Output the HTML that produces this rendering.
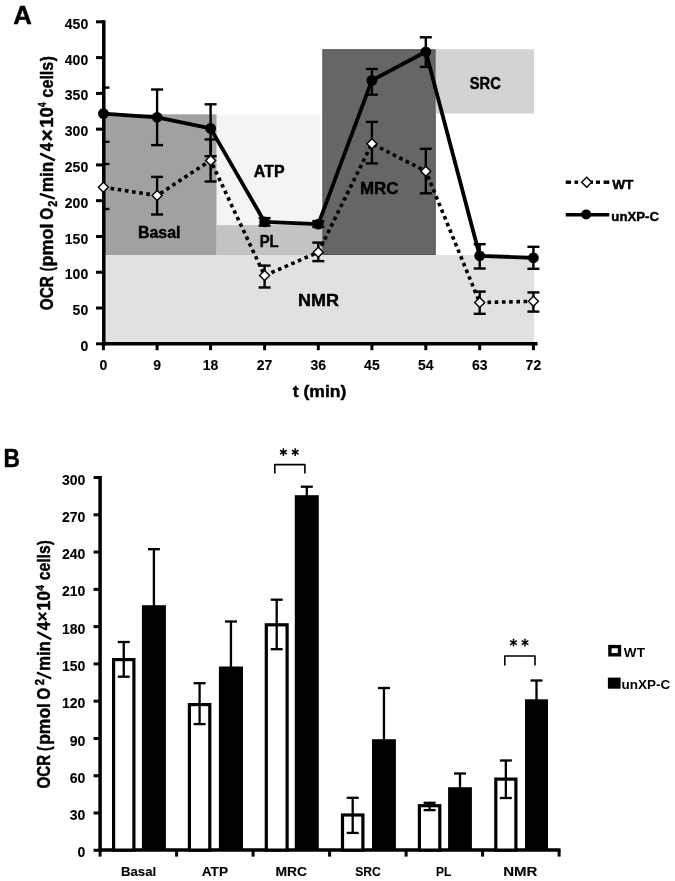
<!DOCTYPE html>
<html><head><meta charset="utf-8"><style>
html,body{margin:0;padding:0;background:#fff;}
svg{display:block;}
text{font-family:"Liberation Sans", sans-serif;fill:#000;stroke:#000;stroke-width:0.45px;stroke-linejoin:round;}
text.lt{stroke-width:0.12px;}
text.vl{stroke-width:0px;}
</style></head><body>
<svg width="675" height="881" viewBox="0 0 675 881">
<defs><filter id="bl" x="0" y="0" width="1" height="1"><feGaussianBlur stdDeviation="0.4"/></filter></defs>
<rect width="675" height="881" fill="#fff"/>
<g filter="url(#bl)">
<rect x="105" y="255" width="429.2" height="88.8" fill="#e1e1e1"/>
<rect x="105" y="114.3" width="111.7" height="140.7" fill="#a1a1a1"/>
<rect x="216.7" y="114.6" width="103.9" height="110.5" fill="#f4f4f4"/>
<rect x="216.7" y="225.1" width="106" height="29.9" fill="#c3c3c3"/>
<rect x="322.9" y="49.8" width="112.3" height="204.6" fill="#666666" stroke="#585858" stroke-width="1.2"/>
<rect x="435.8" y="49.3" width="98.3" height="64.3" fill="#d3d3d3"/>
<text x="137.93" y="238.1" font-size="16.5" font-weight="bold" textLength="42.49" lengthAdjust="spacingAndGlyphs">Basal</text>
<text x="253.82" y="176.5" font-size="16.5" font-weight="bold" textLength="30.71" lengthAdjust="spacingAndGlyphs">ATP</text>
<text x="259.71" y="246.7" font-size="16.5" font-weight="bold" textLength="18.95" lengthAdjust="spacingAndGlyphs">PL</text>
<text x="359.97" y="193.6" font-size="16.5" font-weight="bold" textLength="38.49" lengthAdjust="spacingAndGlyphs">MRC</text>
<text x="469.78" y="88.6" font-size="16.5" font-weight="bold" textLength="31.03" lengthAdjust="spacingAndGlyphs">SRC</text>
<text x="298.10" y="305.5" font-size="16.5" font-weight="bold" textLength="40.97" lengthAdjust="spacingAndGlyphs">NMR</text>
<g stroke="#000" stroke-width="3.5" fill="none">
<line x1="103.8" y1="20.2" x2="103.8" y2="345.6"/>
<line x1="102" y1="343.8" x2="537.6" y2="343.8"/>
</g>
<g stroke="#000" stroke-width="3" fill="none">
<line x1="96" y1="343.80" x2="104" y2="343.80"/>
<line x1="96" y1="308.03" x2="104" y2="308.03"/>
<line x1="96" y1="272.25" x2="104" y2="272.25"/>
<line x1="96" y1="236.48" x2="104" y2="236.48"/>
<line x1="96" y1="200.70" x2="104" y2="200.70"/>
<line x1="96" y1="164.93" x2="104" y2="164.93"/>
<line x1="96" y1="129.15" x2="104" y2="129.15"/>
<line x1="96" y1="93.38" x2="104" y2="93.38"/>
<line x1="96" y1="57.60" x2="104" y2="57.60"/>
<line x1="96" y1="21.82" x2="104" y2="21.82"/>
<line x1="103.40" y1="343.8" x2="103.40" y2="350.2"/>
<line x1="157.10" y1="343.8" x2="157.10" y2="350.2"/>
<line x1="210.60" y1="343.8" x2="210.60" y2="350.2"/>
<line x1="264.60" y1="343.8" x2="264.60" y2="350.2"/>
<line x1="318.30" y1="343.8" x2="318.30" y2="350.2"/>
<line x1="371.90" y1="343.8" x2="371.90" y2="350.2"/>
<line x1="425.80" y1="343.8" x2="425.80" y2="350.2"/>
<line x1="479.70" y1="343.8" x2="479.70" y2="350.2"/>
<line x1="533.40" y1="343.8" x2="533.40" y2="350.2"/>
</g>
<text class="lt" x="88.2" y="350.90" font-size="14" font-weight="bold" text-anchor="end">0</text>
<text class="lt" x="88.2" y="315.13" font-size="14" font-weight="bold" text-anchor="end">50</text>
<text class="lt" x="88.2" y="279.35" font-size="14" font-weight="bold" text-anchor="end">100</text>
<text class="lt" x="88.2" y="243.58" font-size="14" font-weight="bold" text-anchor="end">150</text>
<text class="lt" x="88.2" y="207.80" font-size="14" font-weight="bold" text-anchor="end">200</text>
<text class="lt" x="88.2" y="172.03" font-size="14" font-weight="bold" text-anchor="end">250</text>
<text class="lt" x="88.2" y="136.25" font-size="14" font-weight="bold" text-anchor="end">300</text>
<text class="lt" x="88.2" y="100.47" font-size="14" font-weight="bold" text-anchor="end">350</text>
<text class="lt" x="88.2" y="64.70" font-size="14" font-weight="bold" text-anchor="end">400</text>
<text class="lt" x="88.2" y="28.92" font-size="14" font-weight="bold" text-anchor="end">450</text>
<text class="lt" x="103.40" y="370.3" font-size="14" font-weight="bold" text-anchor="middle">0</text>
<text class="lt" x="157.10" y="370.3" font-size="14" font-weight="bold" text-anchor="middle">9</text>
<text class="lt" x="210.60" y="370.3" font-size="14" font-weight="bold" text-anchor="middle">18</text>
<text class="lt" x="264.60" y="370.3" font-size="14" font-weight="bold" text-anchor="middle">27</text>
<text class="lt" x="318.30" y="370.3" font-size="14" font-weight="bold" text-anchor="middle">36</text>
<text class="lt" x="371.90" y="370.3" font-size="14" font-weight="bold" text-anchor="middle">45</text>
<text class="lt" x="425.80" y="370.3" font-size="14" font-weight="bold" text-anchor="middle">54</text>
<text class="lt" x="479.70" y="370.3" font-size="14" font-weight="bold" text-anchor="middle">63</text>
<text class="lt" x="533.40" y="370.3" font-size="14" font-weight="bold" text-anchor="middle">72</text>
<text transform="translate(53.1,0) rotate(-90)" x="-310.13" y="0" font-size="18.4" font-weight="bold" textLength="34.04" lengthAdjust="spacingAndGlyphs">OCR</text>
<text transform="translate(53.1,0) rotate(-90)" x="-271.24" y="0" font-size="18.4" font-weight="bold" textLength="4.25" lengthAdjust="spacingAndGlyphs">(</text>
<text transform="translate(53.1,0) rotate(-90)" x="-266.49" y="0" font-size="18.4" font-weight="bold" textLength="42.96" lengthAdjust="spacingAndGlyphs">pmol</text>
<text transform="translate(53.1,0) rotate(-90)" x="-219.63" y="0" font-size="18.4" font-weight="bold" textLength="11.87" lengthAdjust="spacingAndGlyphs">O</text>
<text transform="translate(53.1,0) rotate(-90)" x="-206.77" y="3.5" font-size="11.9" font-weight="bold" textLength="6.01" lengthAdjust="spacingAndGlyphs">2</text>
<line x1="54.8" y1="198.6" x2="39.8" y2="193.8" stroke="#000" stroke-width="2.3"/>
<text transform="translate(53.1,0) rotate(-90)" x="-192.33" y="0" font-size="18.4" font-weight="bold" textLength="30.49" lengthAdjust="spacingAndGlyphs">min</text>
<line x1="54.9" y1="160.4" x2="40.1" y2="153.6" stroke="#000" stroke-width="2.3"/>
<text transform="translate(53.1,0) rotate(-90)" x="-151.33" y="0" font-size="18.4" font-weight="bold" textLength="8.51" lengthAdjust="spacingAndGlyphs">4</text>
<text transform="translate(53.1,0) rotate(-90)" x="-141.40" y="0.6" font-size="20.8" font-weight="bold" textLength="12.50" lengthAdjust="spacingAndGlyphs">×</text>
<text transform="translate(53.1,0) rotate(-90)" x="-127.77" y="0" font-size="18.4" font-weight="bold" textLength="20.74" lengthAdjust="spacingAndGlyphs">10</text>
<text transform="translate(53.1,0) rotate(-90)" x="-107.02" y="-6.7" font-size="11.3" font-weight="bold" textLength="4.57" lengthAdjust="spacingAndGlyphs">4</text>
<text transform="translate(53.1,0) rotate(-90)" x="-97.63" y="0" font-size="18.4" font-weight="bold" textLength="36.00" lengthAdjust="spacingAndGlyphs">cells</text>
<text transform="translate(53.1,0) rotate(-90)" x="-61.22" y="0" font-size="18.4" font-weight="bold" textLength="5.19" lengthAdjust="spacingAndGlyphs">)</text>
<text x="292.79" y="397.3" font-size="17" font-weight="bold" textLength="53.59" lengthAdjust="spacingAndGlyphs">t (min)</text>
<g stroke="#000" stroke-width="2.4" fill="none">
<line x1="103.40" y1="164" x2="103.40" y2="209"/><line x1="103.40" y1="164" x2="109.40" y2="164"/><line x1="103.40" y1="209" x2="109.40" y2="209"/>
<line x1="157.10" y1="176.9" x2="157.10" y2="214.5"/><line x1="151.10" y1="176.9" x2="163.10" y2="176.9"/><line x1="151.10" y1="214.5" x2="163.10" y2="214.5"/>
<line x1="210.60" y1="139.4" x2="210.60" y2="181.5"/><line x1="204.60" y1="139.4" x2="216.60" y2="139.4"/><line x1="204.60" y1="181.5" x2="216.60" y2="181.5"/>
<line x1="264.60" y1="265.6" x2="264.60" y2="287.5"/><line x1="258.60" y1="265.6" x2="270.60" y2="265.6"/><line x1="258.60" y1="287.5" x2="270.60" y2="287.5"/>
<line x1="318.30" y1="242.6" x2="318.30" y2="261.1"/><line x1="312.30" y1="242.6" x2="324.30" y2="242.6"/><line x1="312.30" y1="261.1" x2="324.30" y2="261.1"/>
<line x1="371.90" y1="121.9" x2="371.90" y2="163.4"/><line x1="365.90" y1="121.9" x2="377.90" y2="121.9"/><line x1="365.90" y1="163.4" x2="377.90" y2="163.4"/>
<line x1="425.80" y1="148.8" x2="425.80" y2="193.3"/><line x1="419.80" y1="148.8" x2="431.80" y2="148.8"/><line x1="419.80" y1="193.3" x2="431.80" y2="193.3"/>
<line x1="479.70" y1="291.6" x2="479.70" y2="313.8"/><line x1="473.70" y1="291.6" x2="485.70" y2="291.6"/><line x1="473.70" y1="313.8" x2="485.70" y2="313.8"/>
<line x1="533.40" y1="292.4" x2="533.40" y2="311.6"/><line x1="527.40" y1="292.4" x2="539.40" y2="292.4"/><line x1="527.40" y1="311.6" x2="539.40" y2="311.6"/>
<line x1="103.40" y1="87.6" x2="103.40" y2="141.8"/><line x1="103.40" y1="87.6" x2="109.40" y2="87.6"/><line x1="103.40" y1="141.8" x2="109.40" y2="141.8"/>
<line x1="157.10" y1="89.5" x2="157.10" y2="145.1"/><line x1="151.10" y1="89.5" x2="163.10" y2="89.5"/><line x1="151.10" y1="145.1" x2="163.10" y2="145.1"/>
<line x1="210.60" y1="104.3" x2="210.60" y2="156.2"/><line x1="204.60" y1="104.3" x2="216.60" y2="104.3"/><line x1="204.60" y1="156.2" x2="216.60" y2="156.2"/>
<line x1="264.60" y1="218.1" x2="264.60" y2="225.6"/><line x1="258.60" y1="218.1" x2="270.60" y2="218.1"/><line x1="258.60" y1="225.6" x2="270.60" y2="225.6"/>
<line x1="318.30" y1="221.1" x2="318.30" y2="227"/><line x1="312.30" y1="221.1" x2="324.30" y2="221.1"/><line x1="312.30" y1="227" x2="324.30" y2="227"/>
<line x1="371.90" y1="69" x2="371.90" y2="94.7"/><line x1="365.90" y1="69" x2="377.90" y2="69"/><line x1="365.90" y1="94.7" x2="377.90" y2="94.7"/>
<line x1="425.80" y1="37.3" x2="425.80" y2="66.9"/><line x1="419.80" y1="37.3" x2="431.80" y2="37.3"/><line x1="419.80" y1="66.9" x2="431.80" y2="66.9"/>
<line x1="479.70" y1="244.2" x2="479.70" y2="268.5"/><line x1="473.70" y1="244.2" x2="485.70" y2="244.2"/><line x1="473.70" y1="268.5" x2="485.70" y2="268.5"/>
<line x1="533.40" y1="246.8" x2="533.40" y2="268.8"/><line x1="527.40" y1="246.8" x2="539.40" y2="246.8"/><line x1="527.40" y1="268.8" x2="539.40" y2="268.8"/>
</g>
<line x1="103.40" y1="187.3" x2="157.10" y2="195.5" stroke="#000" stroke-width="3.6" stroke-dasharray="3.6 3.62" stroke-dashoffset="7.14"/>
<line x1="157.10" y1="195.5" x2="210.60" y2="160.4" stroke="#000" stroke-width="3.6" stroke-dasharray="3.6 3.62" stroke-dashoffset="3.34"/>
<line x1="210.60" y1="160.4" x2="264.60" y2="275.6" stroke="#000" stroke-width="3.6" stroke-dasharray="3.6 3.62" stroke-dashoffset="2.48"/>
<line x1="264.60" y1="275.6" x2="318.30" y2="252.2" stroke="#000" stroke-width="3.6" stroke-dasharray="3.6 3.62" stroke-dashoffset="6.97"/>
<line x1="318.30" y1="252.2" x2="371.90" y2="143.7" stroke="#000" stroke-width="3.6" stroke-dasharray="3.6 3.62" stroke-dashoffset="0.18"/>
<line x1="371.90" y1="143.7" x2="425.80" y2="171.2" stroke="#000" stroke-width="3.6" stroke-dasharray="3.6 3.62" stroke-dashoffset="5.35"/>
<line x1="425.80" y1="171.2" x2="479.70" y2="302.6" stroke="#000" stroke-width="3.6" stroke-dasharray="3.6 3.62" stroke-dashoffset="1.91"/>
<line x1="479.70" y1="302.6" x2="533.40" y2="301.3" stroke="#000" stroke-width="3.6" stroke-dasharray="3.6 3.62" stroke-dashoffset="6.64"/>
<polyline points="103.40,113.6 157.10,117.3 210.60,128.4 264.60,221.9 318.30,224.1 371.90,80.4 425.80,51.8 479.70,255.8 533.40,257.8" fill="none" stroke="#000" stroke-width="3.8" stroke-linejoin="round"/>
<circle cx="103.40" cy="113.6" r="5.4" fill="#000"/>
<circle cx="157.10" cy="117.3" r="5.4" fill="#000"/>
<circle cx="210.60" cy="128.4" r="5.4" fill="#000"/>
<circle cx="264.60" cy="221.9" r="5.4" fill="#000"/>
<circle cx="318.30" cy="224.1" r="5.4" fill="#000"/>
<circle cx="371.90" cy="80.4" r="5.4" fill="#000"/>
<circle cx="425.80" cy="51.8" r="5.4" fill="#000"/>
<circle cx="479.70" cy="255.8" r="5.4" fill="#000"/>
<circle cx="533.40" cy="257.8" r="5.4" fill="#000"/>
<path d="M103.40,182.30 L108.40,187.30 L103.40,192.30 L98.40,187.30 Z" fill="#fff" stroke="#000" stroke-width="1.4"/>
<path d="M157.10,190.50 L162.10,195.50 L157.10,200.50 L152.10,195.50 Z" fill="#fff" stroke="#000" stroke-width="1.4"/>
<path d="M210.60,155.40 L215.60,160.40 L210.60,165.40 L205.60,160.40 Z" fill="#fff" stroke="#000" stroke-width="1.4"/>
<path d="M264.60,270.60 L269.60,275.60 L264.60,280.60 L259.60,275.60 Z" fill="#fff" stroke="#000" stroke-width="1.4"/>
<path d="M318.30,247.20 L323.30,252.20 L318.30,257.20 L313.30,252.20 Z" fill="#fff" stroke="#000" stroke-width="1.4"/>
<path d="M371.90,138.70 L376.90,143.70 L371.90,148.70 L366.90,143.70 Z" fill="#fff" stroke="#000" stroke-width="1.4"/>
<path d="M425.80,166.20 L430.80,171.20 L425.80,176.20 L420.80,171.20 Z" fill="#fff" stroke="#000" stroke-width="1.4"/>
<path d="M479.70,297.60 L484.70,302.60 L479.70,307.60 L474.70,302.60 Z" fill="#fff" stroke="#000" stroke-width="1.4"/>
<path d="M533.40,296.30 L538.40,301.30 L533.40,306.30 L528.40,301.30 Z" fill="#fff" stroke="#000" stroke-width="1.4"/>
<rect x="565.7" y="180.5" width="5.3" height="3.4" fill="#000"/>
<rect x="574.5" y="180.5" width="3.6" height="3.4" fill="#000"/>
<rect x="588" y="180.5" width="5.0" height="3.4" fill="#000"/>
<rect x="595.9" y="180.5" width="4.1" height="3.4" fill="#000"/>
<rect x="603.6" y="180.5" width="5.7" height="3.4" fill="#000"/>
<path d="M586.70,177.20 L591.70,182.20 L586.70,187.20 L581.70,182.20 Z" fill="#fff" stroke="#000" stroke-width="1.4"/>
<text x="612.19" y="188.5" font-size="13" font-weight="bold" textLength="21.16" lengthAdjust="spacingAndGlyphs">WT</text>
<line x1="565.7" y1="214.8" x2="609.3" y2="214.8" stroke="#000" stroke-width="3.6"/>
<circle cx="586.2" cy="214.4" r="5" fill="#000"/>
<text x="611.38" y="220.5" font-size="13" font-weight="bold" textLength="47.58" lengthAdjust="spacingAndGlyphs">unXP-C</text>
<text x="13.36" y="23.6" font-size="25.5" font-weight="bold" textLength="18.62" lengthAdjust="spacingAndGlyphs">A</text>
<text x="3.38" y="467" font-size="25.5" font-weight="bold" textLength="16.46" lengthAdjust="spacingAndGlyphs">B</text>
<g stroke="#000" stroke-width="3.5" fill="none">
<line x1="100.1" y1="476" x2="100.1" y2="852"/>
<line x1="98.4" y1="850.1" x2="560.5" y2="850.1"/>
</g>
<g stroke="#000" stroke-width="3" fill="none">
<line x1="93.6" y1="850.30" x2="100" y2="850.30"/>
<line x1="93.6" y1="813.02" x2="100" y2="813.02"/>
<line x1="93.6" y1="775.74" x2="100" y2="775.74"/>
<line x1="93.6" y1="738.46" x2="100" y2="738.46"/>
<line x1="93.6" y1="701.18" x2="100" y2="701.18"/>
<line x1="93.6" y1="663.90" x2="100" y2="663.90"/>
<line x1="93.6" y1="626.62" x2="100" y2="626.62"/>
<line x1="93.6" y1="589.34" x2="100" y2="589.34"/>
<line x1="93.6" y1="552.06" x2="100" y2="552.06"/>
<line x1="93.6" y1="514.78" x2="100" y2="514.78"/>
<line x1="93.6" y1="477.50" x2="100" y2="477.50"/>
<line x1="100.10" y1="850" x2="100.10" y2="856.6"/>
<line x1="176.60" y1="850" x2="176.60" y2="856.6"/>
<line x1="253.10" y1="850" x2="253.10" y2="856.6"/>
<line x1="329.60" y1="850" x2="329.60" y2="856.6"/>
<line x1="406.10" y1="850" x2="406.10" y2="856.6"/>
<line x1="482.60" y1="850" x2="482.60" y2="856.6"/>
<line x1="559.10" y1="850" x2="559.10" y2="856.6"/>
</g>
<text class="lt" x="85.4" y="857.40" font-size="14" font-weight="bold" text-anchor="end">0</text>
<text class="lt" x="85.4" y="820.12" font-size="14" font-weight="bold" text-anchor="end">30</text>
<text class="lt" x="85.4" y="782.84" font-size="14" font-weight="bold" text-anchor="end">60</text>
<text class="lt" x="85.4" y="745.56" font-size="14" font-weight="bold" text-anchor="end">90</text>
<text class="lt" x="85.4" y="708.28" font-size="14" font-weight="bold" text-anchor="end">120</text>
<text class="lt" x="85.4" y="671.00" font-size="14" font-weight="bold" text-anchor="end">150</text>
<text class="lt" x="85.4" y="633.72" font-size="14" font-weight="bold" text-anchor="end">180</text>
<text class="lt" x="85.4" y="596.44" font-size="14" font-weight="bold" text-anchor="end">210</text>
<text class="lt" x="85.4" y="559.16" font-size="14" font-weight="bold" text-anchor="end">240</text>
<text class="lt" x="85.4" y="521.88" font-size="14" font-weight="bold" text-anchor="end">270</text>
<text class="lt" x="85.4" y="484.60" font-size="14" font-weight="bold" text-anchor="end">300</text>
<text class="lt" x="121.02" y="875.5" font-size="12.5" font-weight="bold" textLength="35.11" lengthAdjust="spacingAndGlyphs">Basal</text>
<text class="lt" x="201.77" y="875.5" font-size="12.5" font-weight="bold" textLength="26.28" lengthAdjust="spacingAndGlyphs">ATP</text>
<text class="lt" x="275.47" y="875.5" font-size="12.5" font-weight="bold" textLength="31.61" lengthAdjust="spacingAndGlyphs">MRC</text>
<text class="lt" x="355.25" y="875.5" font-size="12.5" font-weight="bold" textLength="25.58" lengthAdjust="spacingAndGlyphs">SRC</text>
<text class="lt" x="435.90" y="875.5" font-size="12.5" font-weight="bold" textLength="15.38" lengthAdjust="spacingAndGlyphs">PL</text>
<text class="lt" x="503.20" y="875.5" font-size="12.5" font-weight="bold" textLength="34.11" lengthAdjust="spacingAndGlyphs">NMR</text>
<text transform="translate(49.7,0) rotate(-90)" x="-788.42" y="0" font-size="17.9" font-weight="bold" textLength="33.63" lengthAdjust="spacingAndGlyphs">OCR</text>
<text transform="translate(49.7,0) rotate(-90)" x="-750.91" y="0" font-size="17.9" font-weight="bold" textLength="4.72" lengthAdjust="spacingAndGlyphs">(</text>
<text transform="translate(49.7,0) rotate(-90)" x="-744.85" y="0" font-size="17.9" font-weight="bold" textLength="41.79" lengthAdjust="spacingAndGlyphs">pmol</text>
<text transform="translate(49.7,0) rotate(-90)" x="-699.63" y="0" font-size="17.9" font-weight="bold" textLength="11.87" lengthAdjust="spacingAndGlyphs">O</text>
<text transform="translate(49.7,0) rotate(-90)" x="-685.29" y="-5.9" font-size="12.0" font-weight="bold" textLength="6.24" lengthAdjust="spacingAndGlyphs">2</text>
<line x1="51.3" y1="678.5" x2="36.9" y2="672.6" stroke="#000" stroke-width="2.2"/>
<text transform="translate(49.7,0) rotate(-90)" x="-671.11" y="0" font-size="17.9" font-weight="bold" textLength="30.06" lengthAdjust="spacingAndGlyphs">min</text>
<line x1="51.3" y1="639.2" x2="37.3" y2="632" stroke="#000" stroke-width="2.2"/>
<text transform="translate(49.7,0) rotate(-90)" x="-630.13" y="0" font-size="17.9" font-weight="bold" textLength="8.51" lengthAdjust="spacingAndGlyphs">4</text>
<text transform="translate(49.7,0) rotate(-90)" x="-621.19" y="-1.5" font-size="15.6" font-weight="bold" textLength="9.58" lengthAdjust="spacingAndGlyphs">×</text>
<text transform="translate(49.7,0) rotate(-90)" x="-610.49" y="0" font-size="17.9" font-weight="bold" textLength="19.31" lengthAdjust="spacingAndGlyphs">10</text>
<text transform="translate(49.7,0) rotate(-90)" x="-590.86" y="-6.1" font-size="11.2" font-weight="bold" textLength="5.71" lengthAdjust="spacingAndGlyphs">4</text>
<text transform="translate(49.7,0) rotate(-90)" x="-580.31" y="0" font-size="17.9" font-weight="bold" textLength="34.96" lengthAdjust="spacingAndGlyphs">cells</text>
<text transform="translate(49.7,0) rotate(-90)" x="-544.91" y="0" font-size="17.9" font-weight="bold" textLength="4.72" lengthAdjust="spacingAndGlyphs">)</text>
<rect x="113.60" y="659.60" width="20.30" height="190.50" fill="#fff" stroke="#000" stroke-width="3.2"/>
<rect x="189.40" y="704.60" width="20.40" height="145.50" fill="#fff" stroke="#000" stroke-width="3.2"/>
<rect x="266.30" y="624.80" width="20.80" height="225.30" fill="#fff" stroke="#000" stroke-width="3.2"/>
<rect x="342.50" y="815.00" width="20.40" height="35.10" fill="#fff" stroke="#000" stroke-width="3.2"/>
<rect x="419.40" y="805.70" width="20.40" height="44.40" fill="#fff" stroke="#000" stroke-width="3.2"/>
<rect x="495.80" y="779.10" width="20.10" height="71.00" fill="#fff" stroke="#000" stroke-width="3.2"/>
<rect x="141.9" y="605.2" width="24.00" height="244.90" fill="#000"/>
<rect x="218.9" y="666.5" width="24.10" height="183.60" fill="#000"/>
<rect x="294.8" y="495.2" width="24.00" height="354.90" fill="#000"/>
<rect x="372" y="739.2" width="23.90" height="110.90" fill="#000"/>
<rect x="448.1" y="787.2" width="23.80" height="62.90" fill="#000"/>
<rect x="525" y="699.3" width="23.00" height="150.80" fill="#000"/>
<g stroke="#000" stroke-width="2.3" fill="none">
<line x1="123.75" y1="642" x2="123.75" y2="676.7"/><line x1="117.75" y1="642" x2="129.75" y2="642"/><line x1="117.75" y1="676.7" x2="129.75" y2="676.7"/>
<line x1="199.60" y1="683.2" x2="199.60" y2="724.1"/><line x1="193.60" y1="683.2" x2="205.60" y2="683.2"/><line x1="193.60" y1="724.1" x2="205.60" y2="724.1"/>
<line x1="276.70" y1="599.7" x2="276.70" y2="649.2"/><line x1="270.70" y1="599.7" x2="282.70" y2="599.7"/><line x1="270.70" y1="649.2" x2="282.70" y2="649.2"/>
<line x1="352.70" y1="797.8" x2="352.70" y2="832.9"/><line x1="346.70" y1="797.8" x2="358.70" y2="797.8"/><line x1="346.70" y1="832.9" x2="358.70" y2="832.9"/>
<line x1="429.60" y1="802.8" x2="429.60" y2="810.1"/><line x1="423.60" y1="802.8" x2="435.60" y2="802.8"/><line x1="423.60" y1="810.1" x2="435.60" y2="810.1"/>
<line x1="505.85" y1="760.5" x2="505.85" y2="798"/><line x1="499.85" y1="760.5" x2="511.85" y2="760.5"/><line x1="499.85" y1="798" x2="511.85" y2="798"/>
<line x1="153.90" y1="549.2" x2="153.90" y2="607.2"/><line x1="147.90" y1="549.2" x2="159.90" y2="549.2"/>
<line x1="230.95" y1="621.5" x2="230.95" y2="668.5"/><line x1="224.95" y1="621.5" x2="236.95" y2="621.5"/>
<line x1="306.80" y1="486.7" x2="306.80" y2="497.2"/><line x1="300.80" y1="486.7" x2="312.80" y2="486.7"/>
<line x1="383.95" y1="688" x2="383.95" y2="741.2"/><line x1="377.95" y1="688" x2="389.95" y2="688"/>
<line x1="460.00" y1="773.5" x2="460.00" y2="789.2"/><line x1="454.00" y1="773.5" x2="466.00" y2="773.5"/>
<line x1="536.50" y1="680.5" x2="536.50" y2="701.3"/><line x1="530.50" y1="680.5" x2="542.50" y2="680.5"/>
</g>
<g stroke="#000" stroke-width="1.6" fill="none" stroke-linejoin="round">
<path d="M274.8,473.4 V464.6 H304.9 V473.4"/>
<path d="M504.8,665.4 V656 H535 V665.4"/>
</g>
<path d="M283.40,448.30L283.40,456.10M286.78,450.25L280.02,454.15M286.78,454.15L280.02,450.25" stroke="#000" stroke-width="1.5" fill="none"/>
<path d="M295.20,448.30L295.20,456.10M298.58,450.25L291.82,454.15M298.58,454.15L291.82,450.25" stroke="#000" stroke-width="1.5" fill="none"/>
<path d="M513.50,638.70L513.50,646.50M516.88,640.65L510.12,644.55M516.88,644.55L510.12,640.65" stroke="#000" stroke-width="1.5" fill="none"/>
<path d="M525.00,638.70L525.00,646.50M528.38,640.65L521.62,644.55M528.38,644.55L521.62,640.65" stroke="#000" stroke-width="1.5" fill="none"/>
<rect x="609.9" y="646.6" width="9.6" height="8.2" fill="#fff" stroke="#000" stroke-width="3.4"/>
<text class="vl" x="623.89" y="657.4" font-size="13" font-weight="bold" textLength="21.06" lengthAdjust="spacingAndGlyphs">WT</text>
<rect x="607.9" y="677.6" width="12.7" height="11.1" fill="#000"/>
<text class="vl" x="621.57" y="688.7" font-size="13" font-weight="bold" textLength="48.60" lengthAdjust="spacingAndGlyphs">unXP-C</text>
</g>
</svg>
</body></html>
